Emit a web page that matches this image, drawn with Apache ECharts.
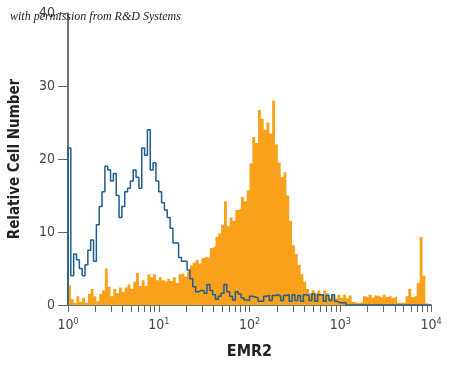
<!DOCTYPE html>
<html>
<head>
<meta charset="utf-8">
<script src="https://cdn.jsdelivr.net/npm/echarts@6/dist/echarts.min.js"></script>
<style>
html,body{margin:0;padding:0;background:#fff;}
#chart{width:450px;height:368px;}
</style>
</head>
<body>
<div id="chart"></div>
<script>
// ---- data ----
const binsPerDecade = 32;           // histogram channels per decade (log scale)
const decadeExponents = [0, 1, 2, 3, 4];
const yTicks = [0, 10, 20, 30, 40];
const minorTickMultipliers = [1, 2, 3, 4, 5, 6, 7, 8, 9];

// Isotype control (blue outline), 128 channels from 10^0 to 10^4
const isotype = [
  21.5, 4, 7, 6.2, 5, 4, 5.5, 7.5, 8.9, 6,
  11, 13.5, 15.5, 19, 18.5, 17, 18, 15, 12, 13.5,
  15.5, 16, 17, 18.5, 17.5, 16, 21.5, 20.5, 24, 18.5,
  19.5, 17, 15.5, 14, 13, 12, 10.5, 8.5, 8.5, 6.5,
  6, 6, 4.8, 3.6, 2.5, 1.8, 2, 2, 1.6, 2.8,
  2, 1.4, 0.8, 1.2, 1.6, 2.8, 1.8, 1.2, 0.7, 1.8,
  1.5, 1, 0.7, 0.6, 1.2, 1.1, 1.0, 0.5, 0.5, 1.2,
  1.3, 0.6, 1.3, 1.4, 1.2, 0.6, 1.3, 1.4, 0.5, 1.4,
  0.6, 1.3, 0.5, 1.4, 1.3, 0.6, 1.5, 0.5, 1.4, 1.4,
  0.5, 1.3, 0.6, 1.4, 0.5, 0.3, 0.3, 0.3, 0, 0,
  0, 0, 0, 0, 0, 0, 0, 0, 0, 0,
  0, 0, 0, 0, 0, 0, 0, 0, 0, 0,
  0, 0, 0, 0, 0, 0, 0, 0
];

// EMR2 staining (orange filled), 128 channels from 10^0 to 10^4
const emr2 = [
  2.7, 0.8, 0.3, 1.2, 0.4, 1, 0.3, 1.5, 2.2, 1.2,
  0.5, 1.5, 2, 5, 2.5, 1.2, 2.2, 1.6, 2.4, 1.8,
  2.4, 2.8, 2.2, 3.2, 4.4, 2.6, 3.4, 2.6, 4.2, 3.8,
  4.2, 3.4, 3.8, 3.4, 3.2, 3.6, 3.3, 3.8, 3.0, 4.2,
  4.4, 3.9, 4.6, 5.4, 5.8, 6.2, 5.7, 6.4, 6.6, 6.4,
  7.8, 8, 9.3, 9.8, 11, 14.2, 10.8, 12, 11.5, 13,
  13.2, 14.8, 14.2, 15.7, 19.4, 23, 22.2, 26.7, 25.5, 24,
  25, 23.5, 28, 22, 19.5, 17.5, 18.2, 15, 11.5, 8.2,
  7, 5.5, 4.2, 3.2, 2.2, 1.6, 2, 1.6, 2, 1.5,
  2, 1.6, 1, 1.3, 0.9, 1.4, 1, 1.4, 0.9, 1.3,
  0.4, 0.3, 0.3, 0.4, 1.2, 1, 1.4, 1, 1.3, 1.2,
  1, 1.4, 1.1, 1.3, 1, 1.2, 0.3, 0.3, 0.3, 1.2,
  2.2, 1.1, 1.3, 3, 9.3, 4, 0.2, 0
];

// ---- build step points (x in log10 units) ----
function toSteps(arr, startAtZero) {
  const pts = [];
  if (startAtZero) pts.push([0, 0]);
  arr.forEach((v, i) => pts.push([i / binsPerDecade, v]));
  pts.push([arr.length / binsPerDecade, arr[arr.length - 1]]);
  return pts;
}

const minorTickPositions = [];
decadeExponents.slice(0, -1).forEach(e => {
  minorTickPositions.push(...minorTickMultipliers.map(m => e + Math.log10(m)));
});
minorTickPositions.push(decadeExponents[decadeExponents.length - 1]);

const chart = echarts.init(document.getElementById('chart'), null, {renderer: 'canvas'});
const labelFont = '"Liberation Sans Narrow", "DejaVu Sans Condensed", "Roboto", sans-serif';

chart.setOption({
  animation: false,
  backgroundColor: '#ffffff',
  title: {
    text: 'with permission from R&D Systems',
    left: 5,
    top: 6,
    textStyle: {
      fontFamily: '"Liberation Serif", "DejaVu Serif", serif',
      fontStyle: 'italic',
      fontWeight: 'normal',
      fontSize: 12,
      color: '#222'
    }
  },
  grid: {left: 68, right: 19, top: 13, bottom: 63},
  xAxis: {
    type: 'value',
    min: 0,
    max: 4,
    name: 'EMR2',
    nameLocation: 'middle',
    nameGap: 39,
    nameTextStyle: {fontFamily: labelFont, fontWeight: 'bold', fontSize: 16, color: '#222'},
    axisLine: {show: true, onZero: false, lineStyle: {color: '#3a4a5a', width: 1.5}},
    axisTick: {show: true, customValues: minorTickPositions, length: 7, lineStyle: {color: '#666', width: 1}},
    axisLabel: {
      customValues: decadeExponents,
      margin: 12,
      formatter: v => '{b|10}{s|' + v + '}',
      rich: {
        b: {fontFamily: labelFont, fontSize: 14, color: '#444'},
        s: {fontFamily: labelFont, fontSize: 9, color: '#444', padding: [0, 0, 8, 0]}
      }
    },
    splitLine: {show: false}
  },
  yAxis: {
    type: 'value',
    min: 0,
    max: 40,
    interval: 10,
    name: 'Relative Cell Number',
    nameLocation: 'middle',
    nameGap: 45,
    nameTextStyle: {fontFamily: labelFont, fontWeight: 'bold', fontSize: 15, color: '#222'},
    axisLine: {show: true, lineStyle: {color: '#444', width: 1.5}},
    axisTick: {show: true, length: 10, lineStyle: {color: '#666'}},
    axisLabel: {
      margin: 13,
      fontFamily: labelFont,
      fontSize: 14,
      color: '#444',
      formatter: v => yTicks.includes(v) ? String(v) : ''
    },
    splitLine: {show: false}
  },
  series: [
    {
      name: 'EMR2',
      type: 'line',
      step: 'end',
      showSymbol: false,
      symbol: 'none',
      data: toSteps(emr2, false),
      lineStyle: {width: 0, color: '#F9A11B'},
      itemStyle: {color: '#F9A11B'},
      areaStyle: {color: '#F9A11B', opacity: 1},
      z: 2
    },
    {
      name: 'Isotype',
      type: 'line',
      step: 'end',
      showSymbol: false,
      symbol: 'none',
      data: toSteps(isotype, true),
      lineStyle: {width: 1.5, color: '#1F5E8E'},
      itemStyle: {color: '#1F5E8E'},
      z: 3
    }
  ]
});
</script>
</body>
</html>
